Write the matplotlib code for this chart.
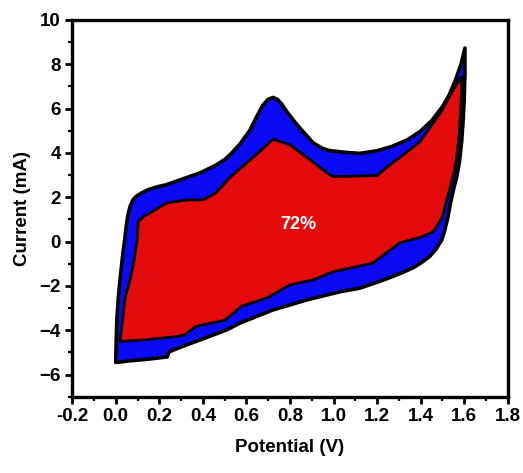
import matplotlib
matplotlib.use("Agg")
import matplotlib.pyplot as plt
from matplotlib.ticker import MultipleLocator
from matplotlib.patches import Polygon

plt.rcParams['font.family'] = ['Liberation Sans', 'DejaVu Sans']
plt.rcParams['font.weight'] = 'bold'

# Full cyclic voltammogram: anodic (forward) and cathodic (reverse) branches
outer_fwd_v = [0.0, 0.002, 0.005, 0.012, 0.022, 0.033, 0.040, 0.048, 0.056, 0.066,
               0.08, 0.095, 0.12, 0.15, 0.19, 0.23, 0.30, 0.387, 0.46, 0.50,
               0.525, 0.57, 0.617, 0.645, 0.675, 0.70, 0.722, 0.742, 0.762, 0.79,
               0.83, 0.87, 0.907, 0.95, 0.984, 1.06, 1.12, 1.20, 1.27, 1.34,
               1.396, 1.45, 1.50, 1.53, 1.56, 1.585, 1.603]
outer_fwd_i = [-5.45, -4.5, -3.5, -2.5, -1.5, -0.5, 0.0, 0.7, 1.2, 1.6,
               1.9, 2.05, 2.2, 2.35, 2.47, 2.56, 2.8, 3.1, 3.45, 3.7,
               3.92, 4.4, 5.04, 5.6, 6.15, 6.42, 6.5, 6.42, 6.2, 5.8,
               5.3, 4.85, 4.45, 4.2, 4.1, 4.02, 3.98, 4.1, 4.3, 4.6,
               4.96, 5.45, 6.09, 6.6, 7.3, 8.0, 8.73]
outer_rev_v = [1.603, 1.603, 1.600, 1.595, 1.588, 1.578, 1.565, 1.552, 1.538, 1.525,
               1.51, 1.497, 1.47, 1.44, 1.40, 1.365, 1.32, 1.27, 1.21, 1.12,
               1.03, 0.877, 0.722, 0.571, 0.51, 0.388, 0.30, 0.245, 0.236, 0.15,
               0.06, 0.0]
outer_rev_i = [8.73, 7.5, 6.5, 5.5, 4.5, 3.6, 2.9, 2.4, 1.8, 1.1,
               0.5, 0.08, -0.35, -0.68, -0.97, -1.18, -1.38, -1.58, -1.8, -2.1,
               -2.26, -2.63, -3.08, -3.67, -3.98, -4.43, -4.75, -4.97, -5.2, -5.3,
               -5.38, -5.45]

# Retained portion of the voltammogram (72 %)
inner_fwd_v = [0.02, 0.044, 0.066, 0.085, 0.098, 0.103, 0.13, 0.158, 0.235, 0.327,
               0.40, 0.46, 0.525, 0.617, 0.66, 0.722, 0.80, 0.892, 0.97, 0.998,
               1.20, 1.25, 1.305, 1.396, 1.49, 1.557, 1.589]
inner_fwd_i = [-4.5, -2.48, -1.73, -0.8, 0.08, 0.9, 1.15, 1.3, 1.75, 1.88,
               1.88, 2.2, 2.9, 3.69, 4.05, 4.62, 4.36, 3.69, 3.1, 2.93,
               2.98, 3.4, 3.8, 4.5, 5.8, 6.98, 7.43]
inner_rev_v = [1.589, 1.585, 1.578, 1.568, 1.555, 1.54, 1.52, 1.50, 1.47, 1.45,
               1.40, 1.305, 1.21, 1.18, 0.998, 0.907, 0.80, 0.694, 0.58, 0.50,
               0.40, 0.365, 0.318, 0.28, 0.135, 0.02]
inner_rev_i = [7.43, 6.2, 5.0, 4.0, 3.2, 2.6, 1.9, 1.12, 0.6, 0.4,
               0.2, -0.05, -0.75, -0.97, -1.36, -1.72, -1.95, -2.54, -2.9, -3.55,
               -3.75, -3.84, -4.2, -4.28, -4.43, -4.5]

label_text = "72%"
label_pos = (0.84, 0.78)

fig = plt.figure(figsize=(5.23, 4.73), dpi=100)
ax = fig.add_axes([0.138, 0.161, 0.833, 0.797])

outer_pts = list(zip(outer_fwd_v, outer_fwd_i)) + list(zip(outer_rev_v, outer_rev_i))
inner_pts = list(zip(inner_fwd_v, inner_fwd_i)) + list(zip(inner_rev_v, inner_rev_i))

ax.add_patch(Polygon(outer_pts, closed=True, facecolor='#0a0af5', edgecolor='black',
                     linewidth=2.6, joinstyle='round', zorder=2))
ax.add_patch(Polygon(inner_pts, closed=True, facecolor='#e30b0b', edgecolor='black',
                     linewidth=2.0, joinstyle='round', zorder=3))

ax.text(label_pos[0], label_pos[1], label_text, color='white', fontsize=13,
        fontweight='bold', ha='center', va='center', zorder=4)

ax.set_xlim(-0.2, 1.8)
ax.set_ylim(-7, 10)
ax.xaxis.set_minor_locator(MultipleLocator(0.1))
ax.yaxis.set_minor_locator(MultipleLocator(1))
ax.set_xticks([-0.2, 0.0, 0.2, 0.4, 0.6, 0.8, 1.0, 1.2, 1.4, 1.6, 1.8])
ax.set_xticklabels(['-0.2', '0.0', '0.2', '0.4', '0.6', '0.8', '1.0', '1.2', '1.4', '1.6', '1.8'])
ax.set_yticks([-6, -4, -2, 0, 2, 4, 6, 8, 10])

ax.tick_params(which='major', direction='out', length=5, width=2, labelsize=13.5, pad=3)
ax.tick_params(which='minor', direction='out', length=3, width=1.6)
ax.tick_params(top=False, right=False)
for lab in ax.get_xticklabels() + ax.get_yticklabels():
    lab.set_fontweight('bold')
for sp in ax.spines.values():
    sp.set_linewidth(2.4)

ax.set_xlabel('Potential (V)', fontsize=13.5, fontweight='bold', labelpad=10)
ax.set_ylabel('Current (mA)', fontsize=13.5, fontweight='bold', labelpad=6)

fig.savefig('out.png', dpi=100)
